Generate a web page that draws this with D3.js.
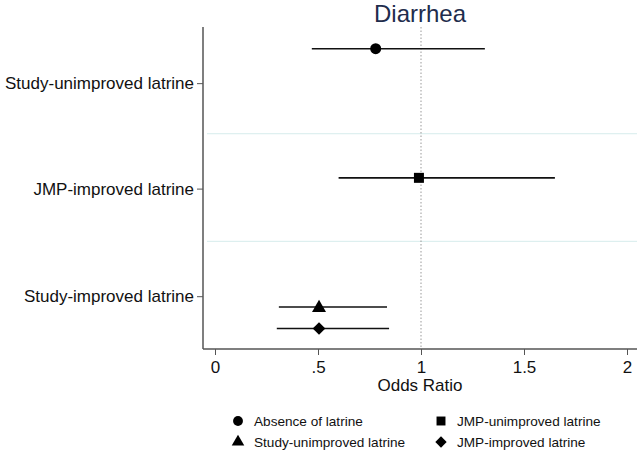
<!DOCTYPE html>
<html>
<head>
<meta charset="utf-8">
<script src="https://cdn.jsdelivr.net/npm/d3@7"></script>
<style>
  body { margin: 0; background: #fff; }
  text { font-family: "Liberation Sans", Arial, sans-serif; }
</style>
</head>
<body>
<div id="chart"></div>
<script>
// data
var series = ["Absence of latrine", "JMP-unimproved latrine", "Study-unimproved latrine", "JMP-improved latrine"];
var shapes = ["circle", "square", "triangle", "diamond"];
var estimates = [0.78, 0.99, 0.505, 0.505];
var lower = [0.47, 0.60, 0.31, 0.30];
var upper = [1.31, 1.65, 0.835, 0.845];
var rows = [0, 6, 12, 13];               // row slot of each estimate
var categories = ["Study-unimproved latrine", "JMP-improved latrine", "Study-improved latrine"];
var categoryRows = [1.6, 6.5, 11.5];
var separatorRows = [3.95, 8.95];
var xTicks = [0, 0.5, 1, 1.5, 2];
var xTickLabels = ["0", ".5", "1", "1.5", "2"];

var width = 640, height = 452;

var x = d3.scaleLinear().domain([0, 2]).range([215, 627]);
var y = d3.scaleLinear().domain([-1, 14]).range([27.2, 350]);
var left = 203, right = 637, bottom = 349;

var svg = d3.select("#chart").append("svg")
  .attr("width", width).attr("height", height);

// title
svg.append("text")
  .attr("x", 420).attr("y", 22)
  .attr("text-anchor", "middle")
  .attr("font-size", 24)
  .attr("fill", "#1f2d4d")
  .text("Diarrhea");

// group separators
svg.selectAll(".sep")
  .data(separatorRows)
  .enter().append("line")
  .attr("x1", left + 4).attr("x2", right)
  .attr("y1", function(d) { return y(d); })
  .attr("y2", function(d) { return y(d); })
  .attr("stroke", "#d6ecec").attr("stroke-width", 1);

// reference line at OR = 1
svg.append("line")
  .attr("x1", x(1)).attr("x2", x(1))
  .attr("y1", 27).attr("y2", bottom)
  .attr("stroke", "#999").attr("stroke-width", 1)
  .attr("stroke-dasharray", "1.5,2");

// y axis
var yAxis = d3.axisLeft(y)
  .tickValues(categoryRows)
  .tickFormat(function(d, i) { return categories[i]; })
  .tickSize(6).tickPadding(3);
var gy = svg.append("g").attr("transform", "translate(" + left + ",0)").call(yAxis);
gy.select(".domain").attr("d", "M0," + 27 + "V" + bottom).attr("stroke", "#555").attr("stroke-width", 1.5);
gy.selectAll(".tick line").attr("stroke", "#555");
gy.selectAll(".tick text").attr("font-size", 17).attr("fill", "#111")
  .style("font-family", "'Liberation Sans', Arial, sans-serif");

// x axis
var xAxis = d3.axisBottom(x)
  .tickValues(xTicks)
  .tickFormat(function(d, i) { return xTickLabels[i]; })
  .tickSize(6).tickPadding(6);
var gx = svg.append("g").attr("transform", "translate(0," + bottom + ")").call(xAxis);
gx.select(".domain").attr("d", "M" + left + ",0H" + right).attr("stroke", "#555").attr("stroke-width", 1.5);
gx.selectAll(".tick line").attr("stroke", "#555");
gx.selectAll(".tick text").attr("font-size", 17).attr("fill", "#111")
  .style("font-family", "'Liberation Sans', Arial, sans-serif");

svg.append("text")
  .attr("x", 420).attr("y", 391)
  .attr("text-anchor", "middle")
  .attr("font-size", 17).attr("fill", "#111")
  .text("Odds Ratio");

// symbols
var diamond = {
  draw: function(ctx, size) {
    var r = Math.sqrt(size / 2);
    ctx.moveTo(0, -r); ctx.lineTo(r, 0); ctx.lineTo(0, r); ctx.lineTo(-r, 0); ctx.closePath();
  }
};
var symbolType = {
  circle: d3.symbolCircle,
  square: d3.symbolSquare,
  triangle: d3.symbolTriangle,
  diamond: diamond
};
var symbolSize = { circle: 95, square: 100, triangle: 85, diamond: 80 };

var pts = series.map(function(s, i) {
  return { name: s, shape: shapes[i], est: estimates[i], lo: lower[i], hi: upper[i], row: rows[i] };
});

svg.selectAll(".ci")
  .data(pts)
  .enter().append("line")
  .attr("x1", function(d) { return x(d.lo); })
  .attr("x2", function(d) { return x(d.hi); })
  .attr("y1", function(d) { return y(d.row); })
  .attr("y2", function(d) { return y(d.row); })
  .attr("stroke", "#111").attr("stroke-width", 1.6);

svg.selectAll(".pt")
  .data(pts)
  .enter().append("path")
  .attr("d", function(d) { return d3.symbol().type(symbolType[d.shape]).size(symbolSize[d.shape])(); })
  .attr("transform", function(d) {
    var dy = d.shape === "triangle" ? 1 : 0;
    return "translate(" + x(d.est) + "," + (y(d.row) + dy) + ")";
  })
  .attr("fill", "#000");

// legend
var legendX = [238, 441];
var legendY = [421, 442];
var legend = svg.selectAll(".legend")
  .data(pts)
  .enter().append("g")
  .attr("transform", function(d, i) {
    return "translate(" + legendX[i % 2] + "," + legendY[Math.floor(i / 2)] + ")";
  });
legend.append("path")
  .attr("d", function(d) { return d3.symbol().type(symbolType[d.shape]).size(symbolSize[d.shape] * 0.8)(); })
  .attr("fill", "#000");
legend.append("text")
  .attr("x", 16).attr("y", 5)
  .attr("font-size", 13.6).attr("fill", "#111")
  .text(function(d) { return d.name; });
</script>
</body>
</html>
